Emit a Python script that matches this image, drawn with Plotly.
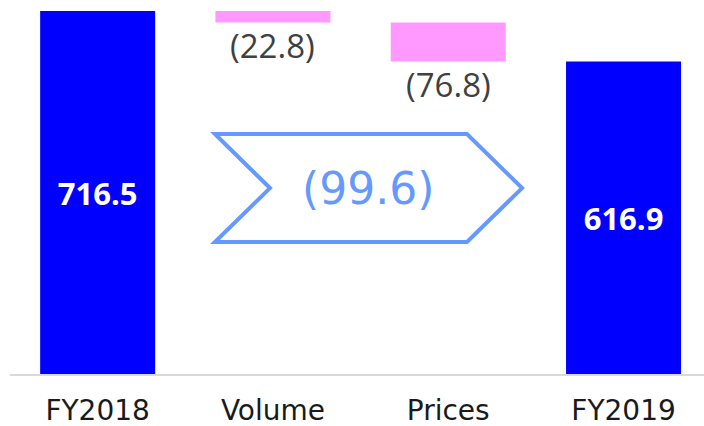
import plotly.graph_objects as go

categories = ["FY2018", "Volume", "Prices", "FY2019"]
start_value = 716.5
deltas = [-22.8, -76.8]
end_value = 616.9
total_change = -99.6

totals_color = "#0000ff"
delta_color = "#ff99ff"
arrow_color = "#6699ff"

x_pos = list(range(len(categories)))

fig = go.Figure()

# Totals
fig.add_trace(go.Bar(
    x=[x_pos[0], x_pos[3]],
    y=[start_value, end_value],
    width=0.656,
    marker=dict(color=totals_color, line=dict(width=0)),
    text=[f"{start_value:.1f}", f"{end_value:.1f}"],
    textposition="inside",
    insidetextanchor="middle",
    constraintext="none",
    textfont=dict(family="Open Sans", size=31, color="white", weight="bold"),
    hoverinfo="skip",
))

# Deltas (floating)
bases = []
running = start_value
for d in deltas:
    bases.append(running)
    running += d
fig.add_trace(go.Bar(
    x=x_pos[1:3],
    y=deltas,
    base=bases,
    width=0.656,
    marker=dict(color=delta_color, line=dict(width=0)),
    hoverinfo="skip",
))
for xi, b, d in zip(x_pos[1:3], bases, deltas):
    fig.add_annotation(
        x=xi, y=b + d, xref="x", yref="y",
        text=f"({abs(d):.1f})",
        showarrow=False, yanchor="top", yshift=2,
        font=dict(family="Open Sans", size=33, color="#404040"),
    )

# Chevron arrow showing total change
xl, xn, xc, xr = 0.669, 0.983, 2.107, 2.421
yb, ym, yt = 260.6, 367.0, 473.7
fig.add_shape(
    type="path",
    xref="x", yref="y",
    path=f"M {xl},{yt} L {xc},{yt} L {xr},{ym} L {xc},{yb} L {xl},{yb} L {xn},{ym} Z",
    line=dict(color=arrow_color, width=4),
    fillcolor="rgba(0,0,0,0)",
)
fig.add_annotation(
    x=1.545, y=ym, xref="x", yref="y",
    text=f"({abs(total_change):.1f})",
    showarrow=False,
    font=dict(family="DejaVu Sans", size=44, color=arrow_color),
)

fig.update_layout(
    width=704, height=426,
    margin=dict(l=10, r=0, t=0, b=52, autoexpand=False),
    paper_bgcolor="white",
    plot_bgcolor="white",
    showlegend=False,
    barmode="overlay",
)
fig.update_xaxes(
    range=[-0.5, 3.459],
    automargin=False,
    tickvals=x_pos, ticktext=categories,
    showgrid=False, zeroline=False,
    showline=True, linecolor="#d9d9d9", linewidth=2,
    ticks="outside", ticklen=10, tickcolor="rgba(0,0,0,0)",
    tickfont=dict(family="DejaVu Sans", size=28, color="#1a1a1a"),
)
fig.update_yaxes(
    range=[0, 738.3],
    automargin=False,
    showgrid=False, zeroline=False, showticklabels=False, showline=False,
)

fig.write_html(
    "out.html",
    config={"displayModeBar": False},
    post_script="document.body.style.margin='0px';document.body.style.overflow='hidden';",
)
